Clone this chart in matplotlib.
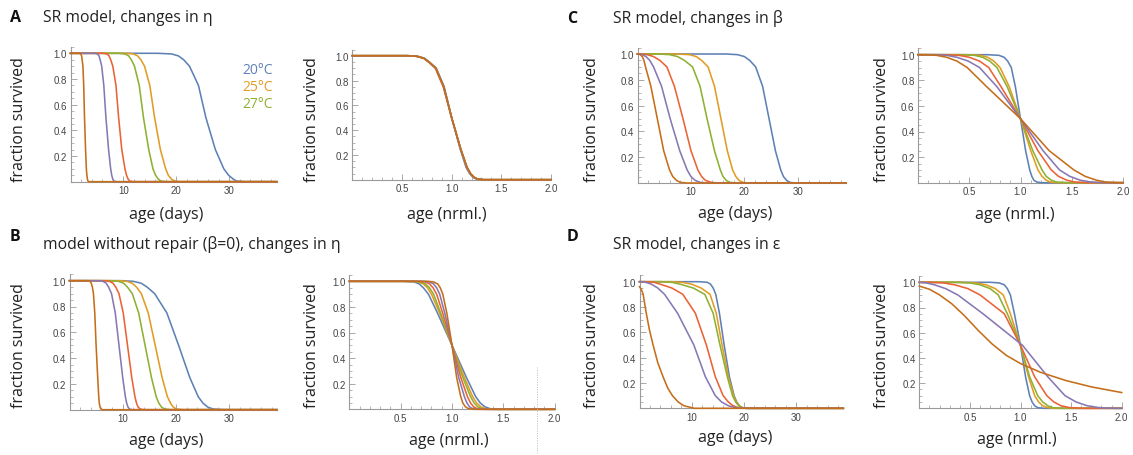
import matplotlib
matplotlib.use("Agg")
import matplotlib.pyplot as plt
from matplotlib.ticker import MultipleLocator, FixedLocator, FormatStrFormatter
from matplotlib.lines import Line2D

lvl = [1.0, 1.0, 0.995, 0.98, 0.95, 0.9, 0.75, 0.5, 0.25, 0.1, 0.05, 0.02, 0.005, 0.0, 0.0]

colors = ["#5E81B5", "#E19C24", "#8FB032", "#EB6235", "#8778B3", "#C56E1A"]
temps = ["20°C", "25°C", "27°C"]

# A: SR model, changes in eta  (blue, orange, green, red, purple, brown)
a_days = [
    [0, 16.5, 19.1, 20.4, 21.4, 22.5, 24.2, 25.6, 27.4, 29.0, 29.9, 30.8, 31.4, 33.0, 39],
    [0, 10.7, 11.9, 12.7, 13.3, 14.0, 15.0, 15.9, 17.0, 18.0, 18.5, 19.1, 19.7, 20.6, 39],
    [0, 9.2, 10.3, 11.0, 11.5, 12.1, 13.0, 13.8, 14.8, 15.6, 16.1, 16.6, 17.1, 17.9, 39],
    [0, 6.2, 6.9, 7.3, 7.6, 8.0, 8.6, 9.1, 9.7, 10.3, 10.6, 10.9, 11.2, 11.8, 39],
    [0, 4.6, 5.1, 5.4, 5.6, 5.9, 6.3, 6.7, 7.2, 7.6, 7.8, 8.0, 8.2, 8.7, 39],
    [0, 1.7, 1.95, 2.1, 2.2, 2.35, 2.5, 2.65, 2.85, 3.0, 3.1, 3.2, 3.3, 3.5, 39],
]
a_nrml = [
    [0, 0.57, 0.66, 0.725, 0.775, 0.845, 0.925, 1.0, 1.085, 1.145, 1.18, 1.215, 1.25, 1.315, 2.0],
    [0, 0.56, 0.65, 0.72, 0.77, 0.84, 0.92, 1.0, 1.09, 1.15, 1.185, 1.22, 1.255, 1.32, 2.0],
    [0, 0.56, 0.65, 0.72, 0.77, 0.84, 0.92, 1.0, 1.09, 1.155, 1.19, 1.225, 1.26, 1.325, 2.0],
    [0, 0.555, 0.645, 0.715, 0.765, 0.835, 0.915, 1.0, 1.09, 1.155, 1.19, 1.225, 1.26, 1.325, 2.0],
    [0, 0.56, 0.65, 0.72, 0.77, 0.84, 0.92, 1.0, 1.09, 1.15, 1.185, 1.22, 1.255, 1.32, 2.0],
    [0, 0.56, 0.65, 0.72, 0.77, 0.84, 0.92, 1.0, 1.09, 1.155, 1.19, 1.225, 1.26, 1.325, 2.0],
]

# B: model without repair, changes in eta
b_days = [
    [0, 10.0, 12.0, 13.5, 14.6, 16.0, 18.3, 20.5, 22.6, 24.2, 25.1, 26.0, 27.0, 29.0, 39],
    [0, 9.3, 10.8, 11.8, 12.6, 13.5, 14.8, 16.1, 17.4, 18.4, 19.0, 19.5, 20.1, 21.3, 39],
    [0, 7.9, 9.2, 10.2, 10.9, 11.8, 13.0, 14.2, 15.4, 16.3, 16.8, 17.3, 17.9, 19.0, 39],
    [0, 6.6, 7.5, 8.2, 8.7, 9.3, 10.1, 10.9, 11.7, 12.3, 12.6, 12.9, 13.3, 14.0, 39],
    [0, 5.6, 6.3, 6.9, 7.35, 7.9, 8.6, 9.3, 10.0, 10.5, 10.75, 11.0, 11.3, 11.8, 39],
    [0, 3.5, 3.85, 4.1, 4.3, 4.5, 4.75, 5.0, 5.3, 5.5, 5.6, 5.75, 5.9, 6.2, 39],
]
b_nrml = [
    [0, 0.52, 0.63, 0.68, 0.72, 0.77, 0.86, 1.0, 1.14, 1.23, 1.275, 1.32, 1.37, 1.45, 2.0],
    [0, 0.58, 0.67, 0.72, 0.76, 0.80, 0.88, 1.0, 1.12, 1.20, 1.24, 1.28, 1.32, 1.40, 2.0],
    [0, 0.61, 0.69, 0.74, 0.78, 0.82, 0.89, 1.0, 1.105, 1.18, 1.215, 1.25, 1.29, 1.37, 2.0],
    [0, 0.67, 0.74, 0.78, 0.815, 0.85, 0.91, 1.0, 1.085, 1.15, 1.18, 1.21, 1.245, 1.31, 2.0],
    [0, 0.72, 0.78, 0.82, 0.85, 0.88, 0.93, 1.0, 1.065, 1.12, 1.145, 1.17, 1.20, 1.26, 2.0],
    [0, 0.77, 0.82, 0.86, 0.885, 0.91, 0.95, 1.0, 1.045, 1.085, 1.105, 1.13, 1.16, 1.21, 2.0],
]

# C: SR model, changes in beta
c_days = [
    [0, 16.5, 18.7, 20.0, 21.0, 22.1, 23.4, 24.6, 25.8, 26.8, 27.3, 27.9, 28.5, 29.6, 39],
    [0, 7.0, 9.7, 11.0, 12.0, 13.2, 14.4, 15.6, 16.8, 17.8, 18.4, 19.0, 19.7, 20.8, 39],
    [0, 4.0, 6.0, 7.5, 8.8, 10.3, 11.7, 13.0, 14.4, 15.5, 16.0, 16.6, 17.3, 18.4, 39],
    [0, 0.8, 1.8, 3.0, 4.2, 5.5, 6.9, 8.5, 10.0, 11.3, 12.0, 12.7, 13.8, 15.2, 39],
    [0, 0.3, 0.9, 1.6, 2.3, 3.0, 4.5, 6.1, 7.9, 9.3, 10.0, 10.8, 11.7, 12.8, 39],
    [0, 0.15, 0.5, 0.9, 1.2, 1.5, 2.5, 3.7, 4.9, 6.0, 6.6, 7.3, 8.0, 9.2, 39],
]
c_nrml = [
    [0, 0.68, 0.79, 0.84, 0.875, 0.91, 0.95, 1.0, 1.05, 1.09, 1.11, 1.13, 1.16, 1.21, 2.0],
    [0, 0.48, 0.61, 0.68, 0.74, 0.80, 0.89, 1.0, 1.10, 1.17, 1.21, 1.25, 1.29, 1.36, 2.0],
    [0, 0.42, 0.55, 0.63, 0.70, 0.77, 0.87, 1.0, 1.12, 1.21, 1.25, 1.30, 1.35, 1.44, 2.0],
    [0, 0.25, 0.40, 0.50, 0.60, 0.69, 0.81, 1.0, 1.17, 1.30, 1.37, 1.45, 1.53, 1.65, 2.0],
    [0, 0.15, 0.28, 0.38, 0.49, 0.60, 0.77, 1.0, 1.22, 1.38, 1.48, 1.58, 1.69, 1.83, 2.0],
    [0, 0.07, 0.18, 0.28, 0.38, 0.48, 0.67, 1.0, 1.28, 1.52, 1.63, 1.74, 1.83, 1.95, 2.0],
]

# D: SR model, changes in epsilon (brown curve does not start at 1)
d_days = [
    [0, 11.5, 13.0, 13.6, 14.1, 14.6, 15.3, 16.2, 17.2, 18.1, 18.6, 19.1, 19.7, 20.6, 39],
    [0, 6.0, 8.2, 10.0, 11.8, 13.5, 14.7, 15.8, 17.0, 18.0, 18.5, 19.1, 19.7, 20.7, 39],
    [0, 4.0, 6.2, 7.8, 10.3, 12.5, 14.1, 15.4, 16.8, 17.8, 18.4, 19.0, 19.7, 20.7, 39],
    [0, 1.0, 2.8, 4.0, 6.2, 8.3, 10.7, 12.8, 14.5, 16.0, 17.0, 17.9, 18.9, 20.3, 39],
    [0, 0.2, 1.2, 2.3, 3.5, 4.8, 7.3, 10.4, 12.6, 14.5, 15.7, 17.0, 18.4, 20.3, 39],
]
d_days_brown_x = [0, 0.35, 0.7, 1.3, 1.9, 2.6, 3.5, 4.5, 5.4, 6.3, 7.4, 8.5, 10.5, 39]
d_days_brown_y = [0.96, 0.94, 0.9, 0.75, 0.62, 0.5, 0.36, 0.25, 0.16, 0.1, 0.05, 0.02, 0.0, 0.0]
d_nrml = [
    [0, 0.70, 0.79, 0.84, 0.87, 0.90, 0.94, 1.0, 1.05, 1.09, 1.115, 1.14, 1.17, 1.23, 2.0],
    [0, 0.40, 0.56, 0.66, 0.75, 0.83, 0.90, 1.0, 1.08, 1.14, 1.18, 1.22, 1.27, 1.34, 2.0],
    [0, 0.35, 0.50, 0.60, 0.70, 0.78, 0.87, 1.0, 1.09, 1.17, 1.22, 1.27, 1.32, 1.41, 2.0],
    [0, 0.10, 0.24, 0.35, 0.48, 0.60, 0.84, 1.0, 1.14, 1.26, 1.33, 1.40, 1.49, 1.62, 2.0],
    [0, 0.0, 0.07, 0.15, 0.26, 0.38, 0.63, 1.02, 1.27, 1.44, 1.55, 1.66, 1.78, 1.93, 2.0],
]
d_nrml_brown_x = [0, 0.1, 0.2, 0.32, 0.44, 0.58, 0.72, 0.86, 1.0, 1.2, 1.45, 1.7, 2.0]
d_nrml_brown_y = [0.97, 0.945, 0.9, 0.83, 0.74, 0.62, 0.51, 0.42, 0.355, 0.285, 0.22, 0.17, 0.125]

W, H = 1133, 456
fig = plt.figure(figsize=(W / 100, H / 100), dpi=100)
fig.patch.set_facecolor("white")

label_font = "Open Sans"
tick_font = "Liberation Sans"
axis_gray = "#9a9a9a"


def make_axes(x0, x1, xmax, y0, y1, days):
    # x0/x1: pixel of x=0 / x=xmax, y0/y1: pixel (from top) of y=0 / y=1
    ytop = 1.05
    top_px = y0 - (y0 - y1) * ytop
    ax = fig.add_axes([x0 / W, 1 - y0 / H, (x1 - x0) / W, (y0 - top_px) / H])
    ax.set_xlim(0, xmax)
    ax.set_ylim(0, ytop)
    ax.patch.set_alpha(0)
    for s in ["top", "right"]:
        ax.spines[s].set_visible(False)
    for s in ["left", "bottom"]:
        ax.spines[s].set_color(axis_gray)
        ax.spines[s].set_linewidth(0.8)
    ax.yaxis.set_major_locator(FixedLocator([0.2, 0.4, 0.6, 0.8, 1.0]))
    ax.yaxis.set_minor_locator(MultipleLocator(0.05))
    if days:
        ax.xaxis.set_major_locator(FixedLocator([10, 20, 30]))
        ax.xaxis.set_minor_locator(MultipleLocator(2))
        ax.xaxis.set_major_formatter(FormatStrFormatter("%d"))
    else:
        ax.xaxis.set_major_locator(FixedLocator([0.5, 1.0, 1.5, 2.0]))
        ax.xaxis.set_minor_locator(MultipleLocator(0.1))
        ax.xaxis.set_major_formatter(FormatStrFormatter("%.1f"))
    ax.yaxis.set_major_formatter(FormatStrFormatter("%.1f"))
    ax.tick_params(which="major", direction="in", length=4, width=0.6,
                   color=axis_gray, labelsize=7, labelcolor="#444444", pad=2.5)
    ax.tick_params(which="minor", direction="in", length=2, width=0.5, color=axis_gray)
    for t in ax.get_xticklabels() + ax.get_yticklabels():
        t.set_fontfamily(tick_font)
    return ax


def draw(ax, xs_list, extra=None):
    for xs, c in zip(xs_list, colors):
        ax.plot(xs, lvl, color=c, lw=1.15, clip_on=False, zorder=3,
                solid_joinstyle="round")
    if extra is not None:
        ax.plot(extra[0], extra[1], color=colors[5], lw=1.15, clip_on=False, zorder=3,
                solid_joinstyle="round")


def ylab(x, y):
    fig.text(x / W, 1 - y / H, "fraction survived", rotation=90, ha="center", va="center",
             fontsize=11.5, family=label_font, color="#222222")


def xlab(x, y, s):
    fig.text(x / W, 1 - y / H, s, ha="center", va="center",
             fontsize=11.5, family=label_font, color="#222222")


def title(xl, xt, y_letter, y_title, letter, s):
    fig.text(xl / W, 1 - y_letter / H, letter, ha="left", va="center", fontsize=11.5,
             fontweight="bold", family=label_font, color="#111111")
    fig.text(xt / W, 1 - y_title / H, s, ha="left", va="center", fontsize=11.3,
             family=label_font, color="#222222")


# panel A
ax = make_axes(70.5, 276.7, 39, 182.7, 54.3, True)
draw(ax, a_days)
for i, t in enumerate(temps):
    fig.text(242 / W, 1 - (70 + 17.5 * i) / H, t, color=colors[i], fontsize=10,
             family=label_font, ha="left", va="center")
ax = make_axes(352.3, 551, 2.0, 180.7, 56.7, False)
draw(ax, a_nrml)

# panel B
ax = make_axes(69.5, 277, 39, 410.7, 281.7, True)
draw(ax, b_days)
ax = make_axes(349.4, 554.6, 2.0, 410.3, 282.3, False)
draw(ax, b_nrml)

# panel C
ax = make_axes(637.5, 846, 39, 184, 55, True)
draw(ax, c_days)
ax = make_axes(918, 1123, 2.0, 183.7, 55.7, False)
draw(ax, c_nrml)

# panel D
ax = make_axes(639.5, 843.3, 39, 409.3, 282.7, True)
draw(ax, d_days, (d_days_brown_x, d_days_brown_y))
ax = make_axes(919.3, 1121.7, 2.0, 409.3, 283.3, False)
draw(ax, d_nrml, (d_nrml_brown_x, d_nrml_brown_y))

# axis labels
for x in [19, 311.7, 591.7, 881.7]:
    ylab(x, 120)
    ylab(x, 346)
xlab(166, 215, "age (days)")
xlab(166, 441.5, "age (days)")
xlab(735, 214, "age (days)")
xlab(735, 438, "age (days)")
xlab(447, 215, "age (nrml.)")
xlab(449, 441.5, "age (nrml.)")
xlab(1015, 215, "age (nrml.)")
xlab(1017, 440, "age (nrml.)")

# titles
title(10, 43, 18.5, 18.5, "A", "SR model, changes in η")
title(10, 43, 237, 245, "B", "model without repair (β=0), changes in η")
title(567, 613, 19, 18.5, "C", "SR model, changes in β")
title(567, 613, 237, 245, "D", "SR model, changes in ε")

# faint dotted guide line in panel B
fig.add_artist(Line2D([537 / W, 537 / W], [1 - 368 / H, 0], color="#bbbbbb",
                      lw=0.7, ls=(0, (1, 1.5))))

fig.savefig("out.png", dpi=100)
